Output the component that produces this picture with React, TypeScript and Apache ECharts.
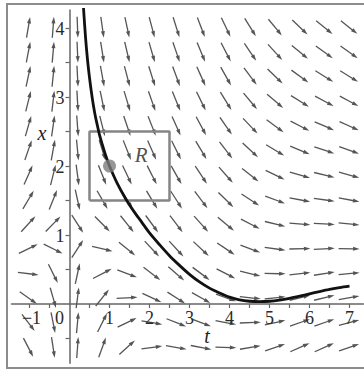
import React, { useEffect, useRef } from "react";
import * as echarts from "echarts";

// Direction field grid (arrow centres)
const tGrid = [-1.03, -0.41, 0.2, 0.82, 1.44, 2.06, 2.67, 3.29, 3.91, 4.52, 5.14, 5.76, 6.37, 6.99];
const xGrid = [4.01, 3.65, 3.3, 2.94, 2.58, 2.23, 1.87, 1.51, 1.16, 0.8, 0.44, 0.09, -0.27, -0.63];

// Slopes dx/dt at each grid point, one row per xGrid value
const slopeRow0 = [3.39, 7.54, -15.2, -4.06, -2.69, -2.17, -1.84, -1.52, -1.21, -0.93, -0.7, -0.55, -0.47, -0.46];
const slopeRow1 = [3.04, 6.67, -13.4, -3.62, -2.44, -2.0, -1.7, -1.41, -1.12, -0.85, -0.63, -0.48, -0.42, -0.41];
const slopeRow2 = [2.7, 5.81, -11.6, -3.19, -2.2, -1.83, -1.57, -1.3, -1.03, -0.77, -0.56, -0.42, -0.36, -0.36];
const slopeRow3 = [2.35, 4.93, -9.8, -2.75, -1.95, -1.66, -1.43, -1.19, -0.94, -0.69, -0.49, -0.36, -0.31, -0.31];
const slopeRow4 = [2.0, 4.06, -8.0, -2.31, -1.7, -1.48, -1.3, -1.08, -0.84, -0.61, -0.42, -0.3, -0.25, -0.26];
const slopeRow5 = [1.67, 3.2, -6.25, -1.89, -1.46, -1.31, -1.17, -0.98, -0.75, -0.54, -0.35, -0.24, -0.19, -0.21];
const slopeRow6 = [1.32, 2.32, -4.45, -1.45, -1.21, -1.14, -1.03, -0.87, -0.66, -0.46, -0.28, -0.17, -0.14, -0.16];
const slopeRow7 = [0.97, 1.45, -2.65, -1.01, -0.96, -0.96, -0.9, -0.76, -0.57, -0.38, -0.21, -0.11, -0.08, -0.11];
const slopeRow8 = [0.63, 0.59, -0.9, -0.58, -0.72, -0.79, -0.77, -0.65, -0.48, -0.3, -0.14, -0.05, -0.03, -0.06];
const slopeRow9 = [0.28, -0.29, 0.9, -0.14, -0.47, -0.62, -0.63, -0.54, -0.39, -0.22, -0.08, 0.01, 0.03, -0.01];
const slopeRow10 = [-0.07, -1.16, 2.7, 0.3, -0.22, -0.44, -0.5, -0.43, -0.3, -0.14, -0.01, 0.07, 0.09, 0.05];
const slopeRow11 = [-0.41, -2.02, 4.45, 0.72, 0.03, -0.27, -0.37, -0.33, -0.21, -0.06, 0.06, 0.14, 0.14, 0.1];
const slopeRow12 = [-0.76, -2.9, 6.25, 1.16, 0.28, -0.1, -0.23, -0.22, -0.11, 0.02, 0.13, 0.2, 0.2, 0.15];
const slopeRow13 = [-1.11, -3.77, 8.05, 1.6, 0.53, 0.08, -0.1, -0.11, -0.02, 0.1, 0.2, 0.26, 0.26, 0.2];
const slopeRows = [
  slopeRow0, slopeRow1, slopeRow2, slopeRow3, slopeRow4, slopeRow5, slopeRow6,
  slopeRow7, slopeRow8, slopeRow9, slopeRow10, slopeRow11, slopeRow12, slopeRow13,
];

// Solution curve through (1, 2)
const curveT = [0.35, 0.4, 0.45, 0.5, 0.55, 0.6, 0.65, 0.7, 0.75, 0.8, 0.9, 1.0, 1.2, 1.4, 1.6, 1.8, 2.0, 2.25, 2.5, 2.75, 3.0, 3.25, 3.5, 3.75, 4.0, 4.25, 4.5, 4.75, 5.0, 5.25, 5.5, 5.75, 6.0, 6.25, 6.5, 6.75, 7.0];
const curveX = [4.29, 3.87, 3.54, 3.28, 3.06, 2.87, 2.71, 2.58, 2.45, 2.35, 2.16, 2.0, 1.74, 1.53, 1.35, 1.19, 1.03, 0.86, 0.7, 0.56, 0.43, 0.32, 0.23, 0.16, 0.1, 0.06, 0.04, 0.034, 0.04, 0.057, 0.082, 0.113, 0.147, 0.18, 0.211, 0.238, 0.259];

// Initial point and rectangle R
const pointT = 1;
const pointX = 2;
const rectT = [0.5, 2.5];
const rectX = [1.5, 2.5];
const rLabel = [1.79, 2.16];

// Axes
const tMin = -1.45;
const tMax = 7.35;
const xMin = -0.86;
const xMax = 4.26;
const tTicks = [-1, -0.5, 0.5, 1, 1.5, 2, 2.5, 3, 3.5, 4, 4.5, 5, 5.5, 6, 6.5, 7];
const tLabels = [-1, 0, 1, 2, 3, 4, 5, 6, 7];
const xTicks = [-0.5, 0.5, 1, 1.5, 2, 2.5, 3, 3.5, 4];
const xLabels = [1, 2, 3, 4];

const SERIF = "'Liberation Serif', 'DejaVu Serif', serif";
const ARROW = "#555555";
const AXIS = "#666666";
const LABEL = "#2a2a2a";

export default function App() {
  const ref = useRef<HTMLDivElement>(null);

  useEffect(() => {
    if (!ref.current) return;
    const chart = echarts.init(ref.current, null, { renderer: "svg" });

    const arrowData: number[][] = [];
    xGrid.forEach((x, j) => {
      tGrid.forEach((t, k) => {
        arrowData.push([t, x, slopeRows[j][k]]);
      });
    });

    const rectData = [
      [rectT[0], rectX[0]],
      [rectT[1], rectX[0]],
      [rectT[1], rectX[1]],
      [rectT[0], rectX[1]],
      [rectT[0], rectX[0]],
    ];

    const pxPerT = 40;
    const pxPerX = 69;

    const textStyle = (text: string, align: string, vAlign: string) => ({
      text,
      font: "18px " + SERIF,
      fill: LABEL,
      align,
      verticalAlign: vAlign,
      textAlign: align,
      textVerticalAlign: vAlign,
    });

    const option: any = {
      animation: false,
      backgroundColor: "#ffffff",
      grid: {
        left: 69.5 + tMin * pxPerT,
        top: 304 - xMax * pxPerX,
        width: (tMax - tMin) * pxPerT,
        height: (xMax - xMin) * pxPerX,
        containLabel: false,
        outerBoundsMode: "none",
      },
      xAxis: {
        type: "value",
        min: tMin,
        max: tMax,
        splitLine: { show: false },
        axisLine: { show: true, onZero: true, lineStyle: { color: AXIS, width: 1.5 } },
        axisTick: { show: true, length: 4, customValues: tTicks, lineStyle: { color: AXIS, width: 1.2 } },
        axisLabel: { show: false },
      },
      yAxis: {
        type: "value",
        min: xMin,
        max: xMax,
        splitLine: { show: false },
        axisLine: { show: true, onZero: true, lineStyle: { color: AXIS, width: 1.5 } },
        axisTick: { show: true, length: 4, customValues: xTicks, lineStyle: { color: AXIS, width: 1.2 } },
        axisLabel: { show: false },
      },
      graphic: [
        {
          type: "rect",
          shape: { x: 7, y: 4, width: 400, height: 364 },
          style: { fill: "none", stroke: "#8c8c8c", lineWidth: 2 },
          silent: true,
          z: 100,
        },
        {
          type: "text",
          x: 42,
          y: 133,
          style: {
            text: "x",
            font: "italic 20px " + SERIF,
            fill: "#222222",
            align: "center",
            verticalAlign: "middle",
            textAlign: "center",
            textVerticalAlign: "middle",
          },
        },
        {
          type: "text",
          x: 207,
          y: 336,
          style: {
            text: "t",
            font: "italic 20px " + SERIF,
            fill: "#222222",
            align: "center",
            verticalAlign: "middle",
            textAlign: "center",
            textVerticalAlign: "middle",
          },
        },
      ],
      series: [
        {
          type: "custom",
          name: "field",
          clip: false,
          z: 2,
          data: arrowData,
          renderItem: (_params: any, api: any) => {
            const t = api.value(0);
            const x = api.value(1);
            const s = api.value(2);
            const c = api.coord([t, x]);
            const d = api.coord([t + 0.05, x + 0.05 * s]);
            let vx = d[0] - c[0];
            let vy = d[1] - c[1];
            const n = Math.hypot(vx, vy) || 1;
            vx /= n;
            vy /= n;
            const L = 21;
            const hl = 6.5;
            const hw = 2.0;
            const tail = [c[0] - (vx * L) / 2, c[1] - (vy * L) / 2];
            const tip = [c[0] + (vx * L) / 2, c[1] + (vy * L) / 2];
            const base = [tip[0] - vx * hl, tip[1] - vy * hl];
            const px = -vy;
            const py = vx;
            return {
              type: "group",
              children: [
                {
                  type: "line",
                  shape: { x1: tail[0], y1: tail[1], x2: base[0] + vx, y2: base[1] + vy },
                  style: { stroke: ARROW, lineWidth: 1.3 },
                },
                {
                  type: "polygon",
                  shape: {
                    points: [
                      tip,
                      [base[0] + px * hw, base[1] + py * hw],
                      [base[0] - px * hw, base[1] - py * hw],
                    ],
                  },
                  style: { fill: ARROW },
                },
              ],
            };
          },
        },
        {
          type: "custom",
          name: "tLabels",
          clip: false,
          z: 3,
          data: tLabels.map((v) => [v, 0]),
          renderItem: (_params: any, api: any) => {
            const v = api.value(0);
            const p = api.coord([v, 0]);
            const txt = v < 0 ? "\u2212" + Math.abs(v) : String(v);
            const dx = v === 0 ? -10 : v < 0 ? 2 : 0;
            return {
              type: "text",
              x: p[0] + dx,
              y: p[1] + 5,
              style: textStyle(txt, "center", "top"),
            };
          },
        },
        {
          type: "custom",
          name: "xLabels",
          clip: false,
          z: 3,
          data: xLabels.map((v) => [0, v]),
          renderItem: (_params: any, api: any) => {
            const v = api.value(1);
            const p = api.coord([0, v]);
            return {
              type: "text",
              x: p[0] - 5,
              y: p[1] + 1,
              style: textStyle(String(v), "right", "middle"),
            };
          },
        },
        {
          type: "line",
          name: "R",
          data: rectData,
          showSymbol: false,
          symbol: "none",
          clip: false,
          z: 4,
          lineStyle: { color: "#858585", width: 2.5 },
        },
        {
          type: "line",
          name: "solution",
          data: curveT.map((t, i) => [t, curveX[i]]),
          showSymbol: false,
          symbol: "none",
          smooth: 0.3,
          clip: false,
          z: 5,
          lineStyle: { color: "#111111", width: 2.8 },
        },
        {
          type: "scatter",
          name: "point",
          data: [[pointT, pointX]],
          symbolSize: 13,
          z: 6,
          itemStyle: { color: "#7d7d7d" },
        },
        {
          type: "scatter",
          name: "Rlabel",
          data: [rLabel],
          symbolSize: 1,
          z: 6,
          itemStyle: { color: "rgba(0,0,0,0)" },
          label: {
            show: true,
            position: "inside",
            formatter: "R",
            fontFamily: SERIF,
            fontStyle: "italic",
            fontSize: 21,
            color: "#222222",
          },
        },
      ],
    };

    chart.setOption(option);
    return () => chart.dispose();
  }, []);

  return (
    <div
      ref={ref}
      style={{ position: "fixed", left: 0, top: 0, width: 364, height: 370, background: "#fff" }}
    />
  );
}
